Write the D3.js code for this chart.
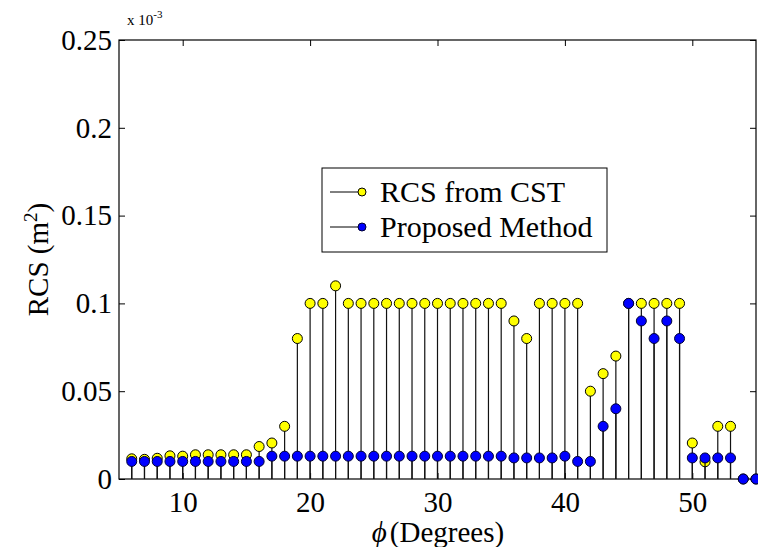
<!DOCTYPE html>
<html>
<head>
<meta charset="utf-8">
<script src="https://cdn.jsdelivr.net/npm/d3@7"></script>
<style>
  html, body { margin: 0; padding: 0; background: #fff; }
  svg { display: block; font-family: "Liberation Serif", "Times New Roman", serif; }
</style>
</head>
<body>
<div id="chart"></div>
<script>
"use strict";

// ---------------------------------------------------------------------------
// Data (RCS in units of 1e-3 m^2)
// ---------------------------------------------------------------------------

const angles = [6, 7, 8, 9, 10, 11, 12, 13, 14, 15, 16, 17, 18, 19, 20,
  21, 22, 23, 24, 25, 26, 27, 28, 29, 30, 31, 32, 33, 34, 35,
  36, 37, 38, 39, 40, 41, 42, 43, 44, 45, 46, 47, 48, 49, 50,
  51, 52, 53, 54, 55];

const rcsCst = [0.0115, 0.0112, 0.0118, 0.0132, 0.013, 0.0138, 0.0138, 0.0138, 0.0138, 0.0138,
  0.0185, 0.0205, 0.03, 0.08, 0.1, 0.1, 0.11, 0.1, 0.1, 0.1,
  0.1, 0.1, 0.1, 0.1, 0.1, 0.1, 0.1, 0.1, 0.1, 0.1,
  0.09, 0.08, 0.1, 0.1, 0.1, 0.1, 0.05, 0.06, 0.07, 0.1,
  0.1, 0.1, 0.1, 0.1, 0.0205, 0.0098, 0.03, 0.03, 0, 0];

const rcsProposed = [0.01, 0.01, 0.01, 0.01, 0.01, 0.01, 0.01, 0.01, 0.01, 0.01,
  0.01, 0.013, 0.013, 0.013, 0.013, 0.013, 0.013, 0.013, 0.013, 0.013,
  0.013, 0.013, 0.013, 0.013, 0.013, 0.013, 0.013, 0.013, 0.013, 0.013,
  0.012, 0.012, 0.012, 0.012, 0.013, 0.01, 0.01, 0.03, 0.04, 0.1,
  0.09, 0.08, 0.09, 0.08, 0.012, 0.012, 0.012, 0.012, 0, 0];

const xTicks = [10, 20, 30, 40, 50];
const yTicks = [0, 0.05, 0.1, 0.15, 0.2, 0.25];
const yTickLabels = ["0", "0.05", "0.1", "0.15", "0.2", "0.25"];

const seriesNames = ["RCS from CST", "Proposed Method"];
const seriesColors = ["#ffff00", "#0000ff"];
const seriesStrokes = ["#000000", "#000033"];

// ---------------------------------------------------------------------------
// Layout
// ---------------------------------------------------------------------------

const width = 758;
const height = 547;
const margin = { left: 119, right: 2, top: 40, bottom: 68 };

const svg = d3.select("#chart")
  .append("svg")
  .attr("width", width)
  .attr("height", height);

const x = d3.scaleLinear()
  .domain([5, 55])
  .range([margin.left, width - margin.right]);

const y = d3.scaleLinear()
  .domain([0, 0.25])
  .range([height - margin.bottom, margin.top]);

const fontSize = 29;
const tickLen = 6;

// ---------------------------------------------------------------------------
// Axes (box with inward ticks)
// ---------------------------------------------------------------------------

function styleAxis(g) {
  g.select(".domain").remove();
  g.selectAll(".tick line").attr("stroke", "#000").attr("stroke-width", 1);
}

function styleLabels(g) {
  g.selectAll("text")
    .attr("font-size", fontSize)
    .attr("font-family", "Liberation Serif")
    .attr("fill", "#000");
}

svg.append("g")
  .attr("transform", `translate(0,${y(0)})`)
  .call(d3.axisBottom(x).tickValues(xTicks).tickSizeInner(-tickLen).tickSizeOuter(0)
    .tickPadding(12).tickFormat(d3.format("d")))
  .call(styleAxis)
  .call(styleLabels);

svg.append("g")
  .attr("transform", `translate(0,${y(0.25)})`)
  .call(d3.axisTop(x).tickValues(xTicks).tickSizeInner(-tickLen).tickSizeOuter(0).tickFormat(""))
  .call(styleAxis);

svg.append("g")
  .attr("transform", `translate(${x(5)},0)`)
  .call(d3.axisLeft(y).tickValues(yTicks).tickSizeInner(-tickLen).tickSizeOuter(0)
    .tickPadding(7).tickFormat((d, i) => yTickLabels[i]))
  .call(styleAxis)
  .call(styleLabels);

svg.append("g")
  .attr("transform", `translate(${x(55)},0)`)
  .call(d3.axisRight(y).tickValues(yTicks).tickSizeInner(-tickLen).tickSizeOuter(0).tickFormat(""))
  .call(styleAxis);

// frame
svg.append("rect")
  .attr("x", x(5))
  .attr("y", y(0.25))
  .attr("width", x(55) - x(5))
  .attr("height", y(0) - y(0.25))
  .attr("fill", "none")
  .attr("stroke", "#000")
  .attr("stroke-width", 1.2);

// ---------------------------------------------------------------------------
// Stems
// ---------------------------------------------------------------------------

[rcsCst, rcsProposed].forEach((vals, s) => {
  const g = svg.append("g").attr("class", "series-" + s);

  g.selectAll("line")
    .data(angles)
    .join("line")
    .attr("x1", (d) => x(d))
    .attr("x2", (d) => x(d))
    .attr("y1", y(0))
    .attr("y2", (d, i) => y(vals[i]))
    .attr("stroke", "#111")
    .attr("stroke-width", 1.2);

  g.selectAll("circle")
    .data(angles)
    .join("circle")
    .attr("cx", (d) => x(d))
    .attr("cy", (d, i) => y(vals[i]))
    .attr("r", 5)
    .attr("fill", seriesColors[s])
    .attr("stroke", seriesStrokes[s])
    .attr("stroke-width", 1);
});

// ---------------------------------------------------------------------------
// Multiplier + labels
// ---------------------------------------------------------------------------

const mult = svg.append("text")
  .attr("x", 127)
  .attr("y", 25)
  .attr("font-size", 15)
  .attr("fill", "#000");
mult.append("tspan").text("x 10");
mult.append("tspan").attr("dy", -7).attr("font-size", 11).text("-3");

const xLabel = svg.append("text")
  .attr("x", 438)
  .attr("y", 542)
  .attr("text-anchor", "middle")
  .attr("font-size", fontSize)
  .attr("fill", "#000");
xLabel.append("tspan").attr("font-style", "italic").text("\u03d5");
xLabel.append("tspan").attr("dx", 3).text("(Degrees)");

const yLabel = svg.append("text")
  .attr("transform", `translate(48,${(y(0) + y(0.25)) / 2}) rotate(-90)`)
  .attr("text-anchor", "middle")
  .attr("font-size", fontSize)
  .attr("fill", "#000");
yLabel.append("tspan").text("RCS (m");
yLabel.append("tspan").attr("dy", -11).attr("font-size", 19).text("2");
yLabel.append("tspan").attr("dy", 11).text(")");

// ---------------------------------------------------------------------------
// Legend
// ---------------------------------------------------------------------------

const legend = svg.append("g").attr("transform", "translate(322,168)");

legend.append("rect")
  .attr("width", 285)
  .attr("height", 84)
  .attr("fill", "#fff")
  .attr("stroke", "#000")
  .attr("stroke-width", 1);

seriesNames.forEach((name, i) => {
  const cy = 24 + i * 35;
  legend.append("line")
    .attr("x1", 8).attr("x2", 38)
    .attr("y1", cy).attr("y2", cy)
    .attr("stroke", "#000");
  legend.append("circle")
    .attr("cx", 40).attr("cy", cy).attr("r", 4)
    .attr("fill", seriesColors[i])
    .attr("stroke", seriesStrokes[i]);
  legend.append("text")
    .attr("x", 58)
    .attr("y", cy + 10)
    .attr("font-size", 30)
    .attr("fill", "#000")
    .text(name);
});
</script>
</body>
</html>
